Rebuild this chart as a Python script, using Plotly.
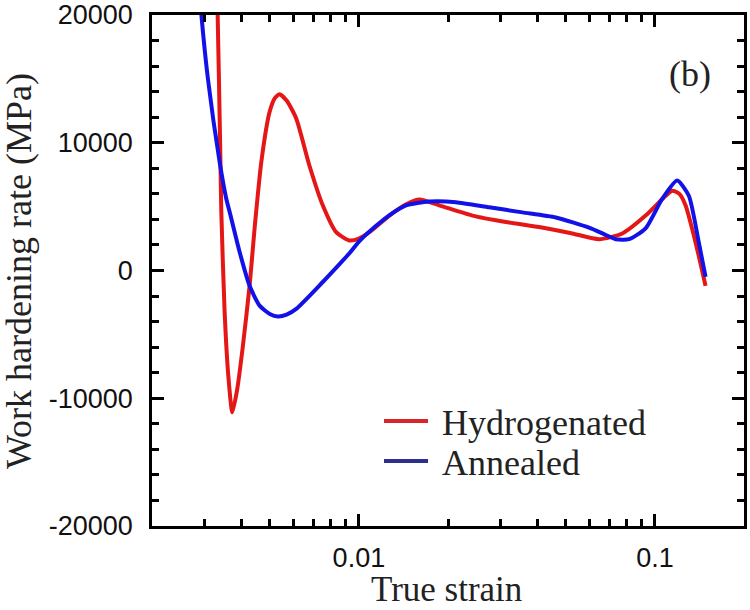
import plotly.graph_objects as go

# Hydrogenated (red) curve: true strain vs work hardening rate (MPa)
hyd_strain = [0.00330, 0.003333, 0.003366, 0.003400, 0.003429, 0.003518, 0.003620, 0.003735,
              0.003880, 0.004056, 0.004273, 0.004442, 0.004681, 0.004991, 0.005200, 0.005393,
              0.005700, 0.006141, 0.006807, 0.007549, 0.008378, 0.009290, 0.01000, 0.01085,
              0.01268, 0.01450, 0.01600, 0.01868, 0.02420, 0.03137, 0.04062, 0.05262,
              0.06474, 0.07757, 0.09302, 0.1060, 0.1144, 0.1210, 0.1269, 0.1372, 0.1483]
hyd_rate = [26000, 20000, 15000, 9500, 4600, -3200, -8200, -11100,
            -9300, -5900, -1200, 3300, 8500, 12400, 13500, 13800,
            13300, 11900, 8200, 5100, 3000, 2350, 2500, 3000,
            4300, 5200, 5550, 5100, 4300, 3800, 3400, 2900,
            2450, 2900, 4300, 5600, 6250, 6000, 5100, 2200, -1200]

# Annealed (blue) curve
ann_strain = [0.00285, 0.002937, 0.003090, 0.003384, 0.003565, 0.003658, 0.003954, 0.004273,
              0.004618, 0.005000, 0.005322, 0.005700, 0.006141, 0.007549, 0.008600, 0.009290,
              0.01004, 0.01143, 0.01280, 0.01443, 0.01729, 0.02127, 0.02755, 0.03568,
              0.04626, 0.05989, 0.06800, 0.07371, 0.08174, 0.09302, 0.1058, 0.1189,
              0.1302, 0.1407, 0.1483]
ann_rate = [24000, 20000, 15000, 8500, 5600, 4600, 1450, -1200,
            -2750, -3400, -3600, -3450, -3000, -900, 500, 1350,
            2300, 3500, 4400, 5100, 5400, 5350, 4950, 4550,
            4150, 3350, 2800, 2450, 2450, 3300, 5600, 7050,
            5850, 2200, -500]

legend_names = ["Hydrogenated", "Annealed"]
y_tick_vals = [-20000, -10000, 0, 10000, 20000]
y_tick_text = ["-20000", "-10000", "0", "10000", "20000"]
y_minor_vals = [v for v in range(-18000, 20000, 2000) if v % 10000 != 0]
x_tick_vals = [0.01, 0.1]
x_tick_text = ["0.01", "0.1"]
x_minor_vals = [0.003, 0.004, 0.005, 0.006, 0.007, 0.008, 0.009,
                0.02, 0.03, 0.04, 0.05, 0.06, 0.07, 0.08, 0.09]

RED = "rgb(228,22,22)"
BLUE = "rgb(18,18,232)"
RED_LEG = "rgb(214,38,44)"
BLUE_LEG = "rgb(46,46,140)"

X_RANGE = [-2.699, -0.699]
Y_RANGE = [-20000, 20000]

L, R, T, B = 152, 6, 15, 84
W, H = 750, 610
pw = W - L - R
ph = H - T - B


def px_x(p):
    return (p - L) / pw


def px_y(p):
    return (H - B - p) / ph


serif = "Liberation Serif, Times New Roman"

fig = go.Figure()
fig.add_trace(go.Scatter(x=hyd_strain, y=hyd_rate, mode="lines",
                         line=dict(color=RED, width=4, shape="spline", smoothing=0.6),
                         showlegend=False))
fig.add_trace(go.Scatter(x=ann_strain, y=ann_rate, mode="lines",
                         line=dict(color=BLUE, width=4, shape="spline", smoothing=0.6),
                         showlegend=False))
# legend entries (two separate legends to control spacing)
fig.add_trace(go.Scatter(x=[None], y=[None], mode="lines", name="\u00a0" + legend_names[0],
                         line=dict(color=RED_LEG, width=4), legend="legend"))
fig.add_trace(go.Scatter(x=[None], y=[None], mode="lines", name="\u00a0" + legend_names[1],
                         line=dict(color=BLUE_LEG, width=4), legend="legend2"))

tickfont = dict(family="Liberation Sans, Arial", size=27, color="#111")
common = dict(showgrid=False, zeroline=False, automargin=False,
              ticks="inside", tickcolor="black", tickwidth=2.5)

fig.update_layout(
    template="none",
    xaxis=dict(type="log", range=X_RANGE, tickmode="array",
               tickvals=x_tick_vals, ticktext=x_tick_text, ticklen=12,
               showline=True, linecolor="black", linewidth=2.5, mirror="ticks",
               ticklabelstandoff=6, tickfont=tickfont, **common),
    yaxis=dict(range=Y_RANGE, tickmode="array",
               tickvals=y_tick_vals, ticktext=y_tick_text, ticklen=12,
               showline=True, linecolor="black", linewidth=2.5, mirror="ticks",
               ticklabelstandoff=11, tickfont=tickfont, **common),
    # minor ticks via overlaying axes (no labels)
    xaxis2=dict(type="log", range=X_RANGE, overlaying="x", matches="x", side="bottom",
                tickmode="array", tickvals=x_minor_vals, ticklen=7,
                showticklabels=False, mirror="ticks", showline=False, **common),
    yaxis2=dict(range=Y_RANGE, overlaying="y", matches="y", side="left",
                tickmode="array", tickvals=y_minor_vals, ticklen=7,
                showticklabels=False, mirror="ticks", showline=False, **common),
)
fig.add_trace(go.Scatter(x=[None], y=[None], xaxis="x2", yaxis="y2", showlegend=False,
                         hoverinfo="skip"))

fig.add_annotation(text="True strain", xref="paper", yref="paper",
                   x=px_x(446), y=px_y(589), xanchor="center", yanchor="middle",
                   showarrow=False, font=dict(family=serif, size=35, color="#222"))
fig.add_annotation(text="Work hardening rate (MPa)", xref="paper", yref="paper",
                   x=px_x(19), y=px_y(271), xanchor="center", yanchor="middle",
                   textangle=-90, showarrow=False,
                   font=dict(family=serif, size=36, color="#222"))
fig.add_annotation(text="(b)", xref="paper", yref="paper",
                   x=px_x(690), y=px_y(74), xanchor="center", yanchor="middle",
                   showarrow=False, font=dict(family=serif, size=36, color="#222"))

leg_common = dict(xanchor="left", yanchor="middle", bgcolor="rgba(0,0,0,0)",
                  borderwidth=0, itemwidth=44,
                  font=dict(family=serif, size=36, color="#222"))
fig.update_layout(
    width=W, height=H,
    margin=dict(l=L, r=R, t=T, b=B),
    paper_bgcolor="white", plot_bgcolor="white",
    legend=dict(x=px_x(379), y=px_y(421), **leg_common),
    legend2=dict(x=px_x(379), y=px_y(461), **leg_common),
)

fig.write_html("out.html", config={"displayModeBar": False},
               post_script="document.body.style.margin='0';document.body.style.overflow='hidden';")
